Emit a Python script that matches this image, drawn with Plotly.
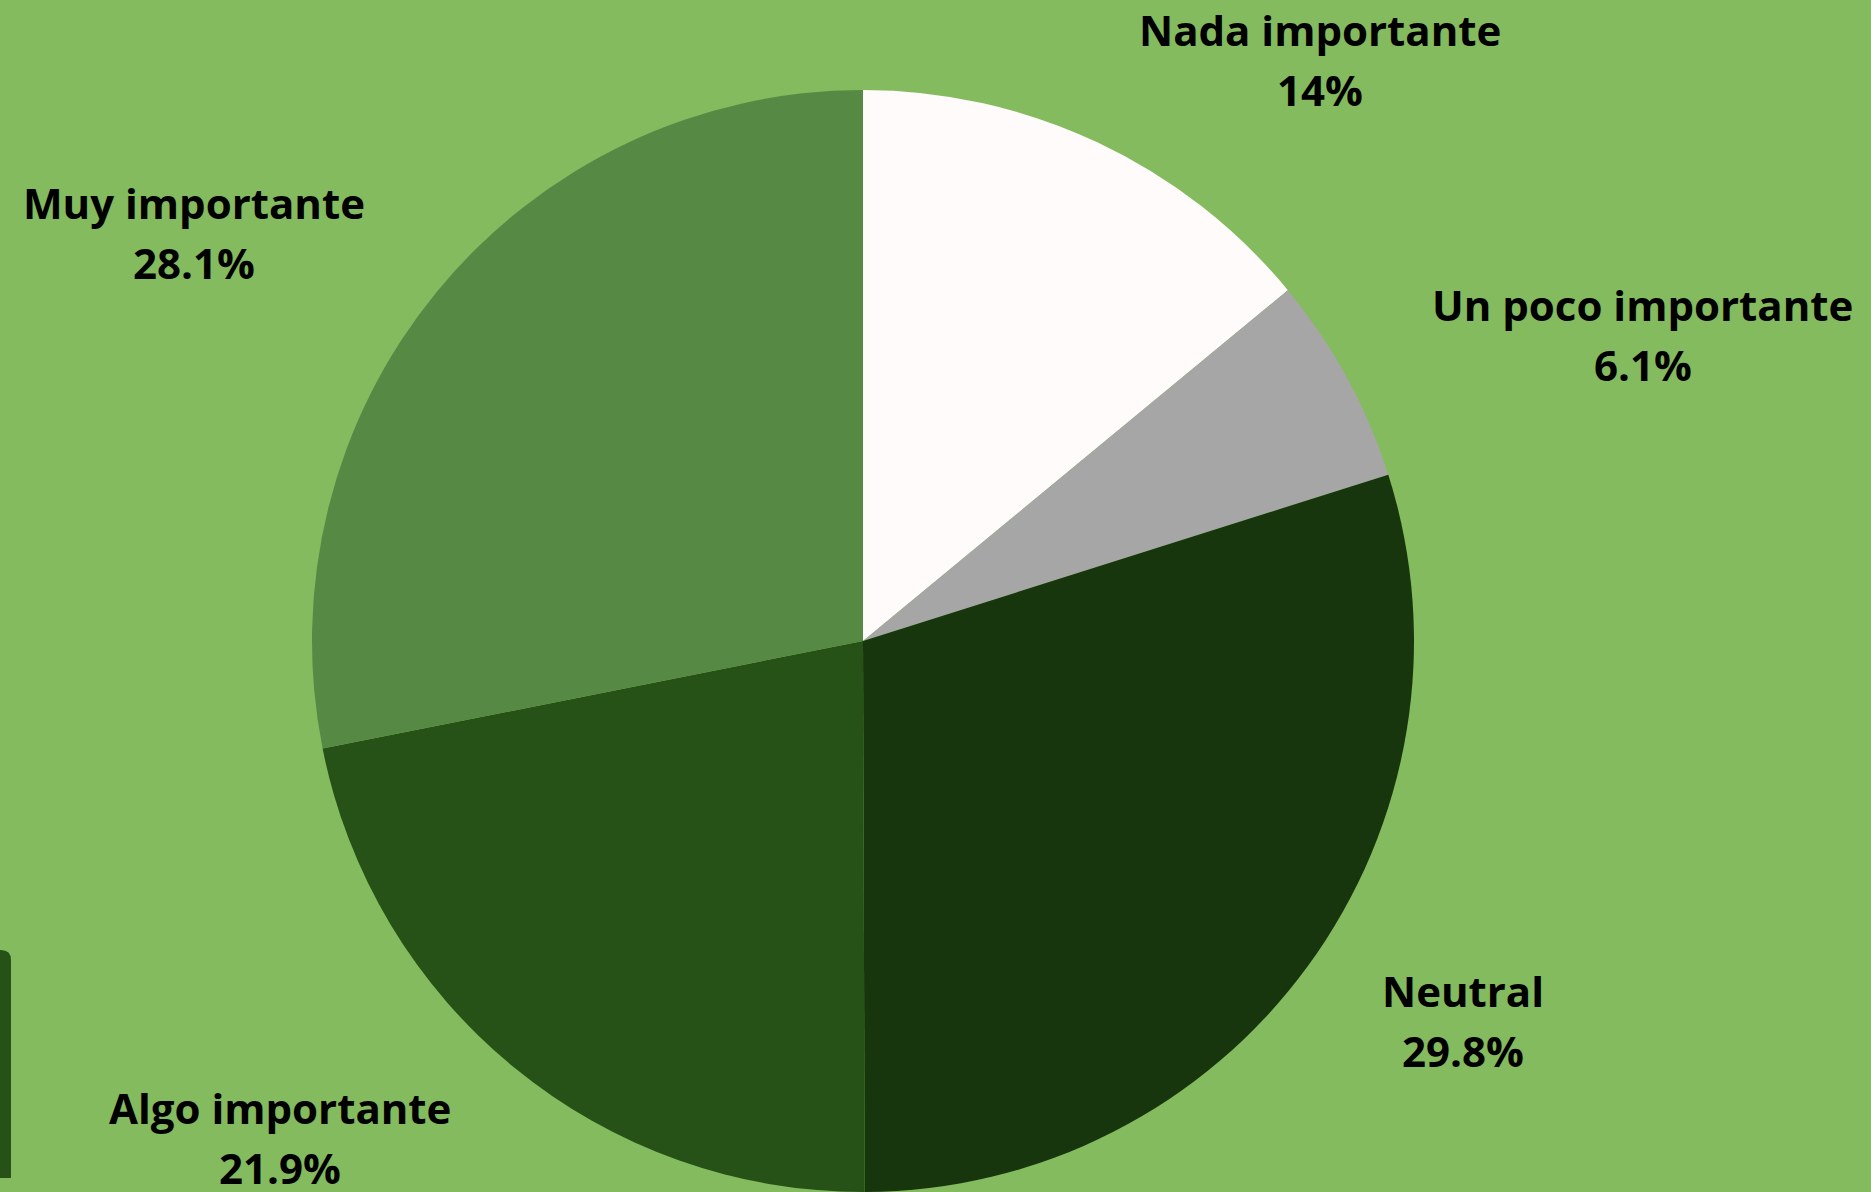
import plotly.graph_objects as go

# respuestas, en orden desde las 12 en sentido horario
categorias = ['Nada importante', 'Un poco importante', 'Neutral', 'Algo importante', 'Muy importante']
porcentajes = [14, 6.1, 29.8, 21.9, 28.1]
colores = ['#FFFBFA', '#A6A6A6', '#18360D', '#265217', '#568A44']

# centro de cada etiqueta (coordenadas de papel)
etiqueta_x = [0.7055, 0.8781, 0.7819, 0.1497, 0.1037]
etiqueta_y = [0.9497, 0.7190, 0.1435, 0.0461, 0.8050]

W, H = 1871, 1192
fondo = '#84BB5E'

fig = go.Figure(go.Pie(
    labels=categorias,
    values=porcentajes,
    marker=dict(colors=colores, line=dict(width=0)),
    sort=False,
    direction='clockwise',
    rotation=0,
    textinfo='none',
    hoverinfo='label+percent',
    showlegend=False,
    domain=dict(x=[(863 - 551) / W, (863 + 551) / W], y=[0, (H - 90) / H]),
))

fuente = dict(family='Open Sans', size=42, color='#000000')
for cat, val, x, y in zip(categorias, porcentajes, etiqueta_x, etiqueta_y):
    # nombre arriba, porcentaje abajo
    fig.add_annotation(x=x, y=y, xref='paper', yref='paper', xanchor='center', yanchor='middle',
                       text=f'<b>{cat}</b>', showarrow=False, font=fuente, yshift=30)
    fig.add_annotation(x=x, y=y, xref='paper', yref='paper', xanchor='center', yanchor='middle',
                       text=f'<b>{val:g}%</b>', showarrow=False, font=fuente, yshift=-30)

# barra decorativa en el borde izquierdo
x1, y0, y1 = 11 / W, (H - 1178) / H, (H - 950) / H
rx, ry = 10 / W, 10 / H
fig.add_shape(
    type='path', xref='paper', yref='paper',
    path=f'M -0.01,{y0} L {x1},{y0} L {x1},{y1 - ry} Q {x1},{y1} {x1 - rx},{y1} L -0.01,{y1} Z',
    fillcolor='#265217', line=dict(width=0),
)

fig.update_layout(
    width=W, height=H,
    margin=dict(l=0, r=0, t=0, b=0),
    paper_bgcolor=fondo,
    plot_bgcolor=fondo,
)

fig.write_html(
    'out.html',
    config={'displayModeBar': False},
    post_script="document.body.style.margin='0';document.body.style.background='#84BB5E';",
)
